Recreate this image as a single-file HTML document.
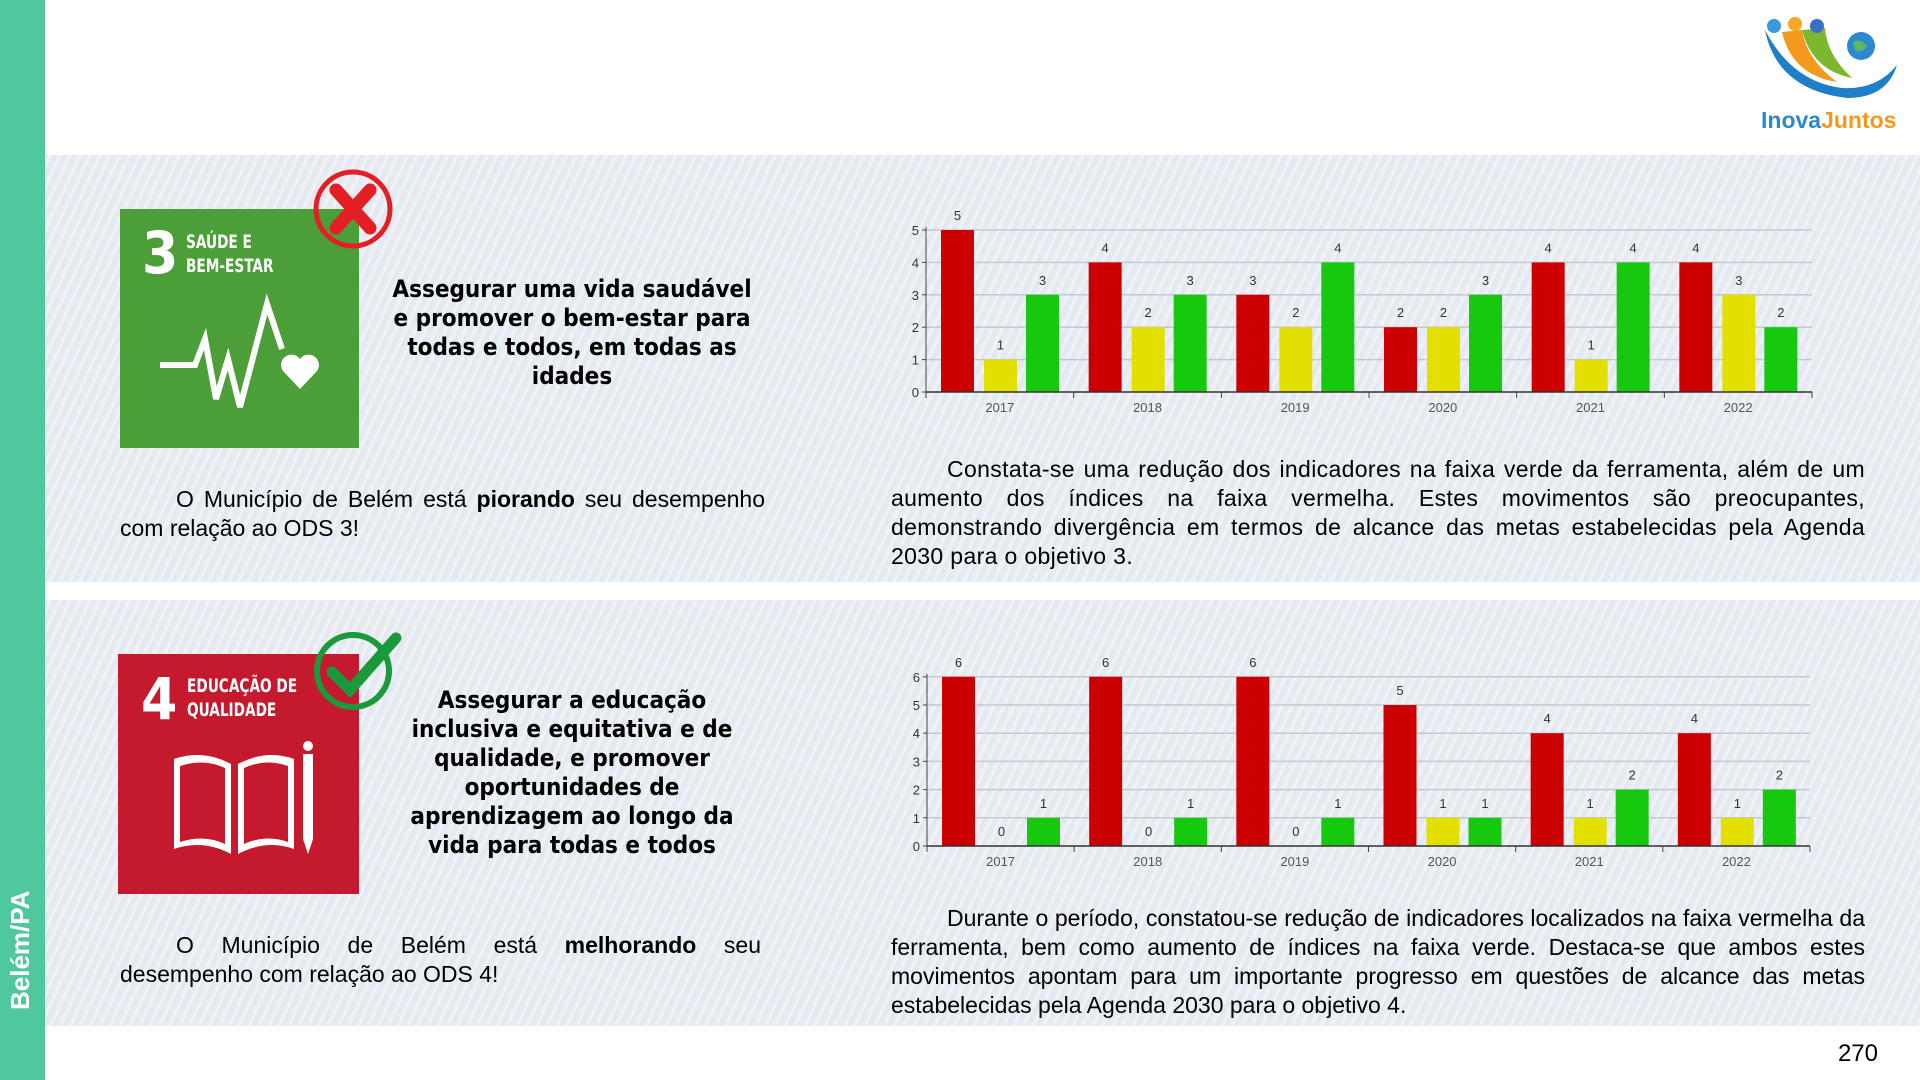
<!DOCTYPE html>
<html><head><meta charset="utf-8">
<style>
*{margin:0;padding:0;box-sizing:border-box}
body{width:1920px;height:1080px;position:relative;background:#fff;font-family:"Liberation Sans",sans-serif;overflow:hidden}
.side{position:absolute;left:0;top:0;width:45px;height:1080px;background:#4fc79f}
.side span{position:absolute;transform:rotate(-90deg);transform-origin:0 100%;color:#fff;font-size:26px;font-weight:bold;white-space:nowrap;left:36px;bottom:70px}
.panel{position:absolute;left:45px;width:1875px;background:repeating-linear-gradient(115deg,#e6eaf1 0 3px,#eef1f6 3px 7px,#e3e8f0 7px 9px)}
.title{position:absolute;width:360px;left:392px;text-align:center;font-weight:bold;font-size:24px;line-height:29px;color:#000;font-family:"DejaVu Sans Condensed","Liberation Sans",sans-serif}
.txt{position:absolute;font-size:23px;line-height:29px;text-align:justify;text-indent:56px;color:#000}
.num{position:absolute;right:42px;top:1040px;font-size:24px}
</style></head><body>
<div class="side"><span>Belém/PA</span></div>
<div class="panel" style="top:155px;height:427px"></div>
<div class="panel" style="top:600px;height:426px"></div>

<!-- SDG 3 -->
<div style="position:absolute;left:120px;top:209px;width:239px;height:239px;background:#4c9f38"></div>
<div style="position:absolute;left:142px;top:224px;color:#fff;font-weight:bold;font-size:58px;line-height:58px;font-family:'DejaVu Sans Condensed',sans-serif">3</div>
<div style="position:absolute;left:186px;top:230px;color:#fff;font-weight:bold;font-size:19px;line-height:24px;font-family:'DejaVu Sans Condensed',sans-serif;transform:scaleX(.8);transform-origin:0 0">SAÚDE E<br>BEM-ESTAR</div>
<svg style="position:absolute;left:120px;top:209px" width="239" height="239"><polyline points="40,156 75,156 85,130 96,190 108,150 120,198 147,95 162,140" fill="none" stroke="#fff" stroke-width="6"/><path d="M180 180 L163 162 A10 10 0 0 1 180 150 A10 10 0 0 1 197 162 Z" fill="#fff"/></svg>
<svg style="position:absolute;left:312px;top:168px" width="82" height="82"><circle cx="41" cy="41" r="37" fill="none" stroke="#e31e24" stroke-width="5"/><path d="M24 22 L58 60 M58 22 L24 60" stroke="#e31e24" stroke-width="13" stroke-linecap="round"/></svg>
<div class="title" style="top:275px">Assegurar uma vida saudável e promover o bem-estar para todas e todos, em todas as idades</div>
<div class="txt" style="left:120px;top:485px;width:645px">O Município de Belém está <b>piorando</b> seu desempenho com relação ao ODS 3!</div>
<div class="txt" style="left:891px;top:455px;width:974px;letter-spacing:0.35px">Constata-se uma redução dos indicadores na faixa verde da ferramenta, além de um aumento dos índices na faixa vermelha. Estes movimentos são preocupantes, demonstrando divergência em termos de alcance das metas estabelecidas pela Agenda 2030 para o objetivo 3.</div>

<!-- SDG 4 -->
<div style="position:absolute;left:118px;top:654px;width:241px;height:240px;background:#c5192d"></div>
<div style="position:absolute;left:141px;top:670px;color:#fff;font-weight:bold;font-size:58px;line-height:58px;font-family:'DejaVu Sans Condensed',sans-serif">4</div>
<div style="position:absolute;left:187px;top:674px;color:#fff;font-weight:bold;font-size:19px;line-height:24px;font-family:'DejaVu Sans Condensed',sans-serif;transform:scaleX(.8);transform-origin:0 0">EDUCAÇÃO DE<br>QUALIDADE</div>
<svg style="position:absolute;left:118px;top:654px" width="241" height="240"><path d="M56 105 L56 195 Q85 185 113 200 L113 110 Q85 95 56 105Z M120 110 L120 200 Q148 185 176 195 L176 105 Q148 95 120 110Z" fill="#fff"/><path d="M62 112 L62 188 Q86 180 107 190 L107 114 Q86 104 62 112Z M126 114 L126 190 Q148 180 170 188 L170 112 Q148 104 126 114Z" fill="#c5192d"/><rect x="185" y="100" width="10" height="85" fill="#fff"/><path d="M185 185 L195 185 L190 200Z" fill="#fff"/><circle cx="190" cy="92" r="5" fill="#fff"/></svg>
<svg style="position:absolute;left:312px;top:630px" width="90" height="82"><circle cx="41" cy="41" r="36" fill="none" stroke="#1a9a3a" stroke-width="6"/><path d="M20 42 L38 60 L84 8" fill="none" stroke="#1a9a3a" stroke-width="11" stroke-linecap="round"/></svg>
<div class="title" style="top:686px">Assegurar a educação inclusiva e equitativa e de qualidade, e promover oportunidades de aprendizagem ao longo da vida para todas e todos</div>
<div class="txt" style="left:120px;top:931px;width:641px">O Município de Belém está <b>melhorando</b> seu desempenho com relação ao ODS 4!</div>
<div class="txt" style="left:891px;top:904px;width:974px">Durante o período, constatou-se redução de indicadores localizados na faixa vermelha da ferramenta, bem como aumento de índices na faixa verde. Destaca-se que ambos estes movimentos apontam para um importante progresso em questões de alcance das metas estabelecidas pela Agenda 2030 para o objetivo 4.</div>

<svg id="c" style="position:absolute;left:0;top:0" width="1920" height="1080"></svg>

<!-- logo -->
<svg style="position:absolute;left:1757px;top:10px" width="150" height="125">
<path d="M8 20 Q20 80 90 88 Q130 88 140 55 Q120 80 85 78 Q35 72 8 20Z" fill="#1e7fc8"/>
<path d="M25 22 Q35 65 80 72 Q50 50 45 20Z" fill="#f39a1e"/>
<path d="M45 20 Q55 60 95 68 Q70 45 68 18Z" fill="#7cb82f"/>
<circle cx="17" cy="16" r="7" fill="#3a9ad9"/><circle cx="38" cy="14" r="7" fill="#f5a623"/><circle cx="60" cy="16" r="7" fill="#3a6fc8"/>
<circle cx="104" cy="36" r="14" fill="#2a8ad0"/><path d="M96 32 Q104 28 110 36 Q104 44 98 40Z" fill="#5cb85c"/>
<text x="4" y="118" font-family="Liberation Sans,sans-serif" font-weight="bold" font-size="23" fill="#2a8ad0">Inova<tspan fill="#f39a1e">Juntos</tspan></text>
</svg>
<div class="num">270</div>

<script>
var s='';
function chart(x0,x1,zero,unit,max,data){
 var gw=(x1-x0)/6;
 for(var v=0;v<=max;v++){var y=zero-v*unit;
  if(v>0)s+='<line x1="'+x0+'" x2="'+x1+'" y1="'+y+'" y2="'+y+'" stroke="#c4c8cf" stroke-width="1.5"/>';
  s+='<line x1="'+(x0-4)+'" x2="'+x0+'" y1="'+y+'" y2="'+y+'" stroke="#444"/>';
  s+='<text x="'+(x0-7)+'" y="'+(y+5)+'" font-size="13" fill="#333" text-anchor="end">'+v+'</text>';}
 var cols=['#cc0000','#e3e000','#16c80e'],off=[15,58,100],yrs=['2017','2018','2019','2020','2021','2022'];
 for(var i=0;i<6;i++){var g=x0+i*gw;
  for(var j=0;j<3;j++){var val=data[i][j],h=val*unit,x=g+off[j];
   s+='<rect x="'+x+'" y="'+(zero-h)+'" width="33" height="'+h+'" fill="'+cols[j]+'"/>';
   s+='<text x="'+(x+16.5)+'" y="'+(zero-h-10)+'" font-size="13" fill="#333" text-anchor="middle">'+val+'</text>';}
  s+='<line x1="'+(g+gw)+'" x2="'+(g+gw)+'" y1="'+zero+'" y2="'+(zero+6)+'" stroke="#444"/>';
  s+='<text x="'+(g+gw/2)+'" y="'+(zero+20)+'" font-size="13" fill="#555" text-anchor="middle">'+yrs[i]+'</text>';}
 s+='<line x1="'+x0+'" x2="'+x0+'" y1="'+(zero-max*unit-3)+'" y2="'+(zero+6)+'" stroke="#444"/>';
 s+='<line x1="'+x0+'" x2="'+x1+'" y1="'+zero+'" y2="'+zero+'" stroke="#333" stroke-width="1.5"/>';
}
chart(926,1812,392,32.4,5,[[5,1,3],[4,2,3],[3,2,4],[2,2,3],[4,1,4],[4,3,2]]);
chart(927,1810,846,28.2,6,[[6,0,1],[6,0,1],[6,0,1],[5,1,1],[4,1,2],[4,1,2]]);
document.getElementById('c').innerHTML=s;
document.getElementById('c').setAttribute('font-family','Liberation Sans Narrow, Liberation Sans, sans-serif');
</script>
</body></html>
